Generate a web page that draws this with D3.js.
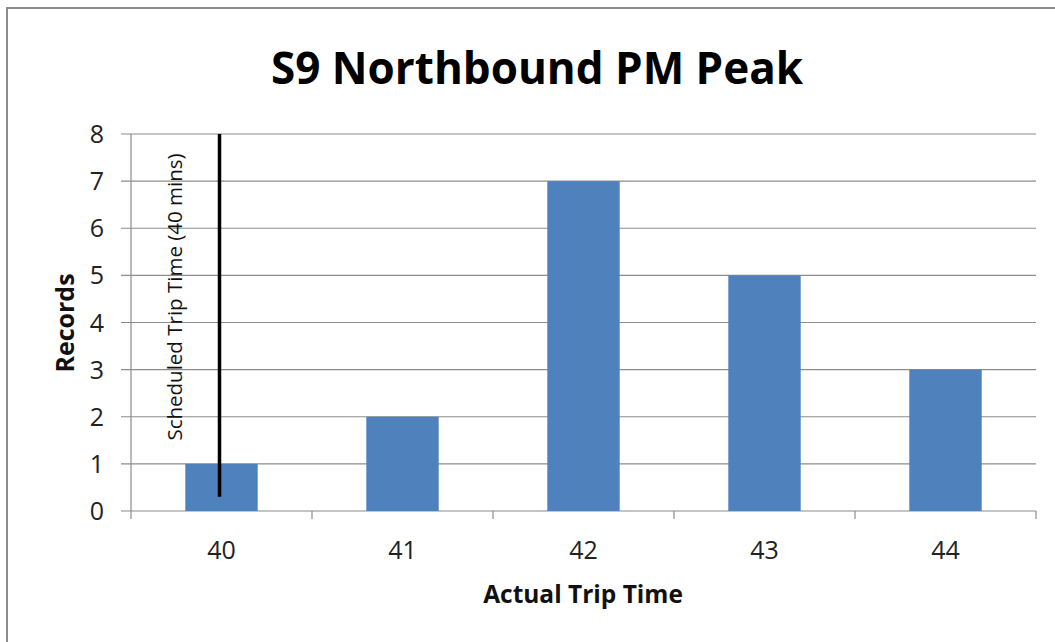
<!DOCTYPE html>
<html><head><meta charset="utf-8">
<script src="https://cdn.jsdelivr.net/npm/d3@7"></script>
<style>body{margin:0;background:#fff}svg{display:block}text{font-family:"Open Sans",sans-serif}</style>
</head><body><svg id="c" width="1055" height="642"></svg>
<script>
const categories = ["40","41","42","43","44"];
const records = [1,2,7,5,3];
const yTicks = [0,1,2,3,4,5,6,7,8];
const scheduled = {category:"40", from:0.3, to:8, label:"Scheduled Trip Time (40 mins)"};
const title = "S9 Northbound PM Peak";
const xTitle = "Actual Trip Time";
const yTitle = "Records";

const svg = d3.select("#c");
const m={left:131,right:1036,top:134,bottom:511};
svg.append("rect").attr("x",7).attr("y",8).attr("width",1100).attr("height",700)
  .attr("fill","#fff").attr("stroke","#8c8c8c").attr("stroke-width",2);

const x=d3.scaleBand().domain(categories).range([m.left,m.right]).paddingInner(0.6).paddingOuter(0.3);
const xb=d3.scaleBand().domain(categories).range([m.left,m.right]);
const y=d3.scaleLinear().domain([0,8]).range([m.bottom,m.top]);

svg.append("g").selectAll("line").data(yTicks).join("line")
  .attr("x1",m.left-10).attr("x2",m.right).attr("y1",d=>y(d)).attr("y2",d=>y(d))
  .attr("stroke","#8c8c8c").attr("stroke-width",1.2);
svg.append("line").attr("x1",m.left).attr("x2",m.left).attr("y1",m.top).attr("y2",m.bottom+8)
  .attr("stroke","#8c8c8c").attr("stroke-width",1.2);
svg.append("g").selectAll("line").data(categories.slice(1).concat(["end"])).join("line")
  .attr("x1",d=>d==="end"?m.right:xb(d)).attr("x2",d=>d==="end"?m.right:xb(d))
  .attr("y1",m.bottom).attr("y2",m.bottom+8).attr("stroke","#8c8c8c").attr("stroke-width",1.2);

svg.append("g").selectAll("rect").data(records).join("rect")
  .attr("x",(d,i)=>x(categories[i])).attr("width",x.bandwidth())
  .attr("y",d=>y(d)).attr("height",d=>y(0)-y(d)).attr("fill","#4f81bd");

svg.append("g").selectAll("text").data(yTicks).join("text")
  .attr("x",m.left-27).attr("y",d=>y(d)).attr("dy","0.36em").attr("text-anchor","end")
  .attr("font-size",25).attr("fill","#222").text(d=>d);
svg.append("g").selectAll("text").data(categories).join("text")
  .attr("x",d=>xb(d)+xb.bandwidth()/2).attr("y",559).attr("text-anchor","middle")
  .attr("font-size",25).attr("fill","#222").text(d=>d);

const sx = xb(scheduled.category)+xb.bandwidth()/2-2;
svg.append("line").attr("x1",sx).attr("x2",sx).attr("y1",y(scheduled.to)).attr("y2",y(scheduled.from))
  .attr("stroke","#000").attr("stroke-width",3.5);
svg.append("text").attr("transform",`translate(${sx-38},297) rotate(-90)`)
  .attr("text-anchor","middle").attr("font-size",20.5).attr("fill","#111").text(scheduled.label);

svg.append("text").attr("x",537).attr("y",84).attr("text-anchor","middle")
  .attr("font-size",44).attr("font-weight","bold").attr("fill","#000").text(title);
svg.append("text").attr("x",583).attr("y",603).attr("text-anchor","middle")
  .attr("font-size",24.5).attr("font-weight","bold").attr("fill","#111").text(xTitle);
svg.append("text").attr("transform",`translate(74,323) rotate(-90)`)
  .attr("text-anchor","middle").attr("font-size",25).attr("font-weight","bold").attr("fill","#111").text(yTitle);
</script></body></html>
